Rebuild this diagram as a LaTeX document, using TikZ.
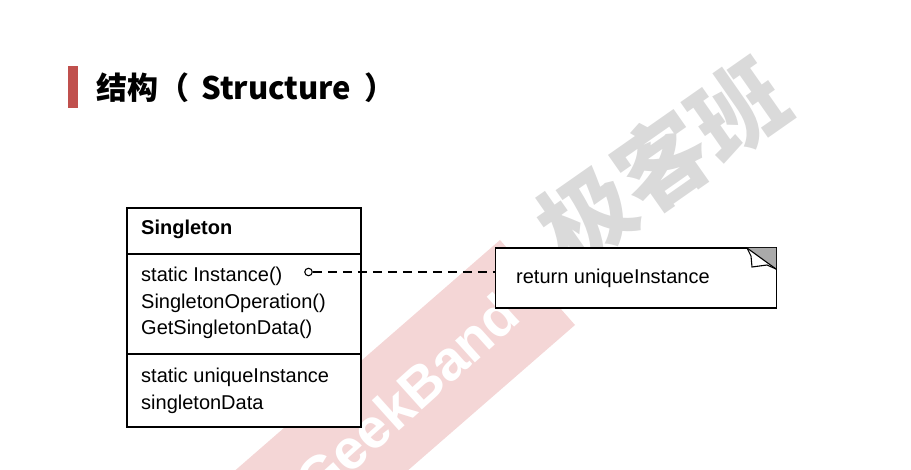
\documentclass[tikz,border=0pt]{standalone}
\usepackage{fontspec}
\setmainfont{Liberation Sans}
\newfontfamily\cjk{Noto Sans CJK SC}
\newfontfamily\wmfont{Liberation Sans}
\definecolor{barred}{RGB}{192,80,77}
\definecolor{wmpink}{RGB}{244,214,214}
\definecolor{wmgrey}{RGB}{218,218,218}
\definecolor{notegrey}{RGB}{170,170,170}
\tikzset{
  umltext/.style={anchor=base west, inner sep=0pt, font=\fontsize{20}{24}\selectfont},
  umlbold/.style={umltext, font=\fontsize{20}{24}\selectfont\bfseries},
  umlbox/.style={draw=black, line width=1.3pt, fill=white},
  depline/.style={draw=black, line width=1.2pt, dash pattern=on 9pt off 6pt},
}
\begin{document}
\begin{tikzpicture}[x=1pt,y=-1pt]
\useasboundingbox (0,0) rectangle (911,470);
\clip (0,0) rectangle (911,470);
% watermark
\fill[wmpink] (500,240) -- (575,325) -- (198,653) -- (123,568) -- cycle;
\node[rotate=42, text=white, inner sep=0pt, font=\wmfont\bfseries\fontsize{56}{56}\selectfont] (wmtext) at (407,397) {GeekBand};
\node[rotate=35, text=wmgrey, inner sep=0pt, font=\cjk\bfseries\fontsize{92}{92}\selectfont] (wmcn) at (662,162) {极客班};
% title
\fill[barred] (68,66) rectangle (78,108);
\node[anchor=base west, inner sep=0pt, font=\cjk\bfseries\fontsize{31}{36}\selectfont] (title) at (96,100) {结构（\hspace{12pt}Structure\hspace{13pt}）};
% class box
\path[umlbox] (127,208) rectangle (361,427);
\coordinate (clsL1) at (127,254);
\coordinate (clsR1) at (361,254);
\coordinate (clsL2) at (127,354);
\coordinate (clsR2) at (361,354);
\draw[line width=1.3pt] (clsL1) -- (clsR1);
\draw[line width=1.3pt] (clsL2) -- (clsR2);
\node[umlbold] (cname) at (141,235) {Singleton};
\node[umltext] (op1) at (141,281.5) {static Instance()};
\node[umltext] (op2) at (141,308.3) {SingletonOperation()};
\node[umltext] (op3) at (141,335) {GetSingletonData()};
\node[umltext] (at1) at (141,382.5) {static uniqueInstance};
\node[umltext] (at2) at (141,409.3) {singletonData};
% note
\node[draw=black, line width=1.3pt, fill=white, minimum width=281pt, minimum height=60pt, inner sep=0pt, anchor=north west] (note) at (495,247.5) {};
\node[umltext] (notetext) at (516,283.3) {return uniqueInstance};
\fill[notegrey] (747,248) -- (776,248) -- (776,269) -- cycle;
\draw[line width=1.1pt, fill=white] (747,248) -- (751,256) -- (752,267) -- (767,265) -- (776,269);
\draw[line width=1.1pt] (747,248) -- (776,269);
% connector
\node[circle, draw=black, line width=1.1pt, minimum size=7.5pt, inner sep=0pt, fill=white] (dot) at (308.5,272) {};
\draw[depline] (dot.east) -- (note.west |- dot.east);
\end{tikzpicture}
\end{document}
